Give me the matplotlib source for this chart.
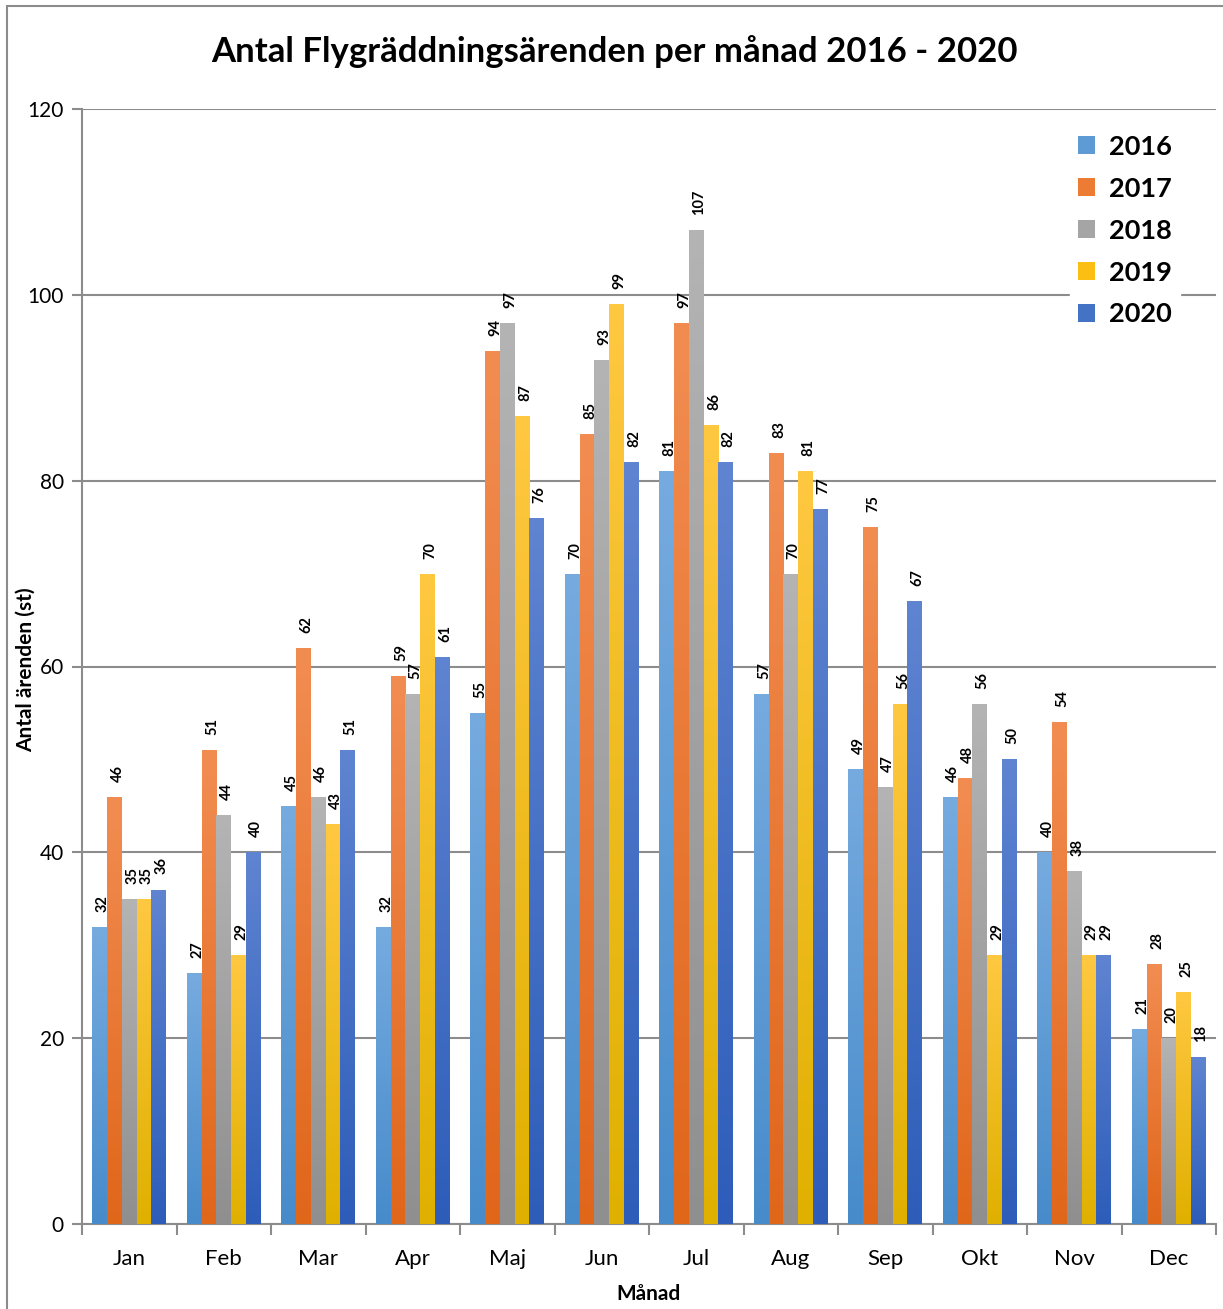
import numpy as np
import matplotlib
matplotlib.use("Agg")
import matplotlib.pyplot as plt
from matplotlib.colors import to_rgb
from matplotlib.patches import Rectangle, Patch

plt.rcParams['font.family'] = ['Lato', 'DejaVu Sans']

months = ["Jan", "Feb", "Mar", "Apr", "Maj", "Jun", "Jul", "Aug", "Sep", "Okt", "Nov", "Dec"]
years = ["2016", "2017", "2018", "2019", "2020"]
v2016 = [32, 27, 45, 32, 55, 70, 81, 57, 49, 46, 40, 21]
v2017 = [46, 51, 62, 59, 94, 85, 97, 83, 75, 48, 54, 28]
v2018 = [35, 44, 46, 57, 97, 93, 107, 70, 47, 56, 38, 20]
v2019 = [35, 29, 43, 70, 87, 99, 86, 81, 56, 29, 29, 25]
v2020 = [36, 40, 51, 61, 76, 82, 82, 77, 67, 50, 29, 18]
series = [v2016, v2017, v2018, v2019, v2020]
yticks = [0, 20, 40, 60, 80, 100, 120]

tops = ["#76abdf", "#f28d52", "#b4b4b4", "#ffc841", "#5f84d1"]
bottoms = ["#478bcb", "#e0661a", "#8f8f8f", "#e0b000", "#2d5db9"]
mids = ["#5e9bd5", "#ec7b33", "#a5a5a5", "#fbbf14", "#4472c4"]

W, H = 1223, 1309
fig = plt.figure(figsize=(W / 100, H / 100), dpi=100)
ax = fig.add_axes([82 / W, 1 - 1224 / H, (1216 - 82) / W, (1224 - 109) / H])

x = np.arange(len(months))
group = 0.78
bw = group / len(series)
grad = np.linspace(0, 1, 256)[:, None]
for i, (vals, yr) in enumerate(zip(series, years)):
    pos = x - group / 2 + bw * (i + 0.5)
    bars = ax.bar(pos, vals, width=bw, color=mids[i], edgecolor='none', zorder=3, label=yr)
    t = np.array(to_rgb(tops[i]))
    b = np.array(to_rgb(bottoms[i]))
    img = (t[None, None, :] * (1 - grad[:, :, None]) + b[None, None, :] * grad[:, :, None])
    for rect, v in zip(bars, vals):
        x0 = rect.get_x()
        im = ax.imshow(img, extent=[x0, x0 + rect.get_width(), 0, rect.get_height()],
                       aspect='auto', origin='upper', zorder=3.5, interpolation='bilinear')
        im.set_clip_path(rect)
        ax.annotate(str(v), (x0 + rect.get_width() / 2, v), xytext=(3, 15),
                    textcoords='offset pixels', ha='center', va='bottom', rotation=90,
                    fontsize=10.5, fontweight='bold', zorder=5)

ax.set_xlim(-0.5, len(months) - 0.5)
ax.set_ylim(0, 120)
ax.set_yticks(yticks)
ax.set_yticklabels([str(t) for t in yticks], fontsize=15)
ax.set_xticks(x)
ax.set_xticklabels(months, fontsize=16)
ax.set_xticks(np.arange(-0.5, len(months), 1), minor=True)
ax.tick_params(axis='x', which='major', length=0, pad=18)
ax.tick_params(axis='x', which='minor', length=8, width=1.5, color='#8c8c8c')
ax.tick_params(axis='y', length=7, width=1.5, color='#8c8c8c', pad=6)
ax.grid(axis='y', color='#8c8c8c', linewidth=1.5, zorder=0)
ax.set_axisbelow(True)
for s in ['top', 'right']:
    ax.spines[s].set_visible(False)
for s in ['left', 'bottom']:
    ax.spines[s].set_color('#8c8c8c')
    ax.spines[s].set_linewidth(1.5)

ax.set_ylabel("Antal ärenden (st)", fontsize=15, fontweight='bold')
ax.yaxis.label.set_va('center')
ax.yaxis.set_label_coords((26 - 82) / 1134, 0.497)
ax.set_xlabel("Månad", fontsize=15, fontweight='bold', labelpad=11)

handles = [Patch(facecolor=mids[i], label=years[i]) for i in range(len(years))]
leg = ax.legend(handles=handles, loc='upper right', bbox_to_anchor=((1180 - 82) / 1134, 0.984),
                frameon=True, fancybox=False, framealpha=1, edgecolor='white',
                prop={'size': 19.5, 'weight': 'bold'}, handlelength=0.65, handleheight=0.65,
                handletextpad=0.5, labelspacing=0.66, borderpad=0.3, borderaxespad=0)
leg.set_zorder(10)

fig.text(0.502, 1 - 52 / H, "Antal Flygräddningsärenden per månad 2016 - 2020",
         ha='center', va='center', fontsize=25, fontweight='bold')

fig.patches.append(Rectangle((7 / W, -0.05), 1.1, 1 - 6 / H + 0.05, transform=fig.transFigure,
                             fill=False, edgecolor='#8c8c8c', linewidth=1.5))

fig.savefig("out.png", dpi=100)
